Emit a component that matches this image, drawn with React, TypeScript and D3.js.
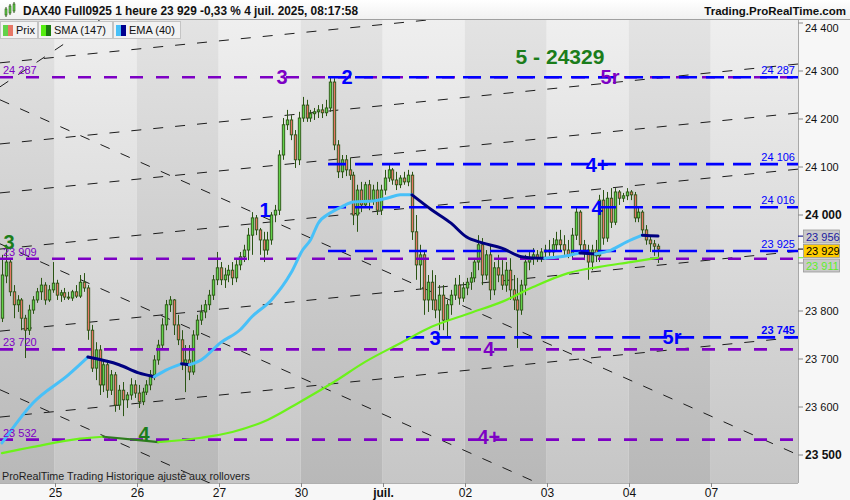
import React, { useEffect, useRef } from 'react';
import * as d3 from 'd3';

type Candle = [number, number, number, number]; // open, high, low, close

const FONT = "'Liberation Sans', Arial, Helvetica, sans-serif";
const W = 850;
const H = 500;
const PLOT_RIGHT = 798;
const PLOT_TOP = 20;
const PLOT_BOTTOM = 483;
const SLOT_END = 204.35;

// hourly sessions, first day is partial on screen
const dayLabels = ['24', '25', '26', '27', '30', 'juil.', '02', '03', '04', '07'];
const daySlots = [14, 21, 21, 21, 21, 21, 21, 21, 21, 21];

const day24: Candle[] = [
  [23785, 23917, 23777, 23875], [23873, 23938, 23858, 23902], [23902, 23910, 23831, 23840],
  [23840, 23854, 23785, 23813], [23813, 23833, 23798, 23823], [23823, 23827, 23760, 23785],
  [23785, 23792, 23702, 23760], [23760, 23813, 23750, 23802], [23802, 23831, 23794, 23823],
  [23823, 23848, 23817, 23840], [23840, 23869, 23823, 23854], [23854, 23860, 23813, 23823],
  [23823, 23854, 23819, 23844], [23844, 23902, 23838, 23858],
];
const day25: Candle[] = [
  [23858, 23865, 23823, 23833], [23833, 23844, 23819, 23838], [23838, 23848, 23823, 23829],
  [23829, 23840, 23823, 23827], [23827, 23844, 23821, 23840], [23840, 23854, 23827, 23831],
  [23831, 23875, 23827, 23860], [23860, 23879, 23840, 23848], [23848, 23854, 23740, 23760],
  [23760, 23771, 23673, 23681], [23681, 23735, 23656, 23719], [23719, 23729, 23625, 23646],
  [23646, 23698, 23631, 23688], [23688, 23698, 23619, 23635], [23635, 23677, 23625, 23667],
  [23667, 23673, 23590, 23604], [23604, 23646, 23594, 23635], [23635, 23652, 23581, 23615],
  [23615, 23631, 23598, 23625], [23625, 23660, 23615, 23646], [23646, 23656, 23619, 23629],
];
const day26: Candle[] = [
  [23629, 23646, 23598, 23611], [23611, 23640, 23604, 23631], [23631, 23656, 23625, 23646],
  [23646, 23677, 23635, 23667], [23667, 23708, 23656, 23698], [23698, 23740, 23688, 23729],
  [23729, 23785, 23719, 23771], [23771, 23823, 23760, 23813], [23813, 23831, 23798, 23823],
  [23823, 23825, 23750, 23771], [23771, 23792, 23729, 23740], [23740, 23760, 23677, 23688],
  [23688, 23729, 23631, 23698], [23698, 23729, 23656, 23673], [23673, 23760, 23667, 23750],
  [23750, 23792, 23740, 23781], [23781, 23813, 23771, 23798], [23798, 23823, 23785, 23813],
  [23813, 23844, 23802, 23833], [23833, 23875, 23823, 23865], [23865, 23923, 23854, 23890],
];
const day27: Candle[] = [
  [23890, 23902, 23854, 23865], [23865, 23890, 23848, 23875], [23875, 23896, 23860, 23885],
  [23885, 23902, 23854, 23869], [23869, 23906, 23860, 23896], [23896, 23923, 23885, 23913],
  [23913, 23938, 23902, 23927], [23927, 23973, 23906, 23958], [23958, 24006, 23917, 23994],
  [23994, 24000, 23958, 23969], [23969, 23973, 23917, 23948], [23948, 23965, 23902, 23927],
  [23927, 23965, 23917, 23948], [23948, 24006, 23938, 24000], [24000, 24021, 23985, 24010],
  [24010, 24135, 24000, 24125], [24125, 24202, 24115, 24188], [24188, 24219, 24177, 24198],
  [24198, 24208, 24156, 24167], [24167, 24177, 24098, 24115], [24115, 24215, 24104, 24202],
];
const day30: Candle[] = [
  [24202, 24246, 24194, 24229], [24229, 24240, 24194, 24202], [24202, 24219, 24194, 24211],
  [24211, 24223, 24198, 24215], [24215, 24229, 24202, 24219], [24219, 24231, 24202, 24213],
  [24213, 24240, 24206, 24223], [24223, 24288, 24215, 24277], [24277, 24285, 24135, 24146],
  [24146, 24156, 24077, 24090], [24090, 24125, 24077, 24115], [24115, 24125, 24081, 24094],
  [24094, 24119, 24073, 24083], [24083, 24090, 23979, 24000], [24000, 24063, 23965, 24052],
  [24052, 24069, 24006, 24021], [24021, 24069, 24015, 24063], [24063, 24073, 24010, 24031],
  [24031, 24063, 24021, 24052], [24052, 24069, 24000, 24010], [24010, 24063, 24000, 24052],
];
const day01: Candle[] = [
  [24052, 24094, 24042, 24077], [24077, 24104, 24069, 24094], [24094, 24098, 24063, 24073],
  [24073, 24090, 24052, 24063], [24063, 24083, 24056, 24077], [24077, 24090, 24063, 24069],
  [24069, 24094, 24060, 24083], [24083, 24090, 23948, 23965], [23965, 24000, 23865, 23896],
  [23896, 23938, 23844, 23917], [23917, 23927, 23792, 23823], [23823, 23875, 23798, 23860],
  [23860, 23885, 23802, 23823], [23823, 23875, 23785, 23802], [23802, 23854, 23760, 23833],
  [23833, 23854, 23760, 23781], [23781, 23823, 23746, 23813], [23813, 23844, 23792, 23833],
  [23833, 23869, 23823, 23854], [23854, 23875, 23813, 23827], [23827, 23860, 23819, 23848],
];
const day02: Candle[] = [
  [23848, 23869, 23833, 23860], [23860, 23881, 23844, 23869], [23869, 23910, 23860, 23902],
  [23902, 23958, 23885, 23938], [23938, 23952, 23854, 23875], [23875, 23927, 23865, 23917],
  [23917, 23938, 23823, 23844], [23844, 23902, 23833, 23890], [23890, 23917, 23860, 23875],
  [23875, 23906, 23844, 23854], [23854, 23902, 23840, 23885], [23885, 23910, 23823, 23844],
  [23844, 23875, 23802, 23823], [23823, 23869, 23723, 23802], [23802, 23865, 23792, 23854],
  [23854, 23917, 23833, 23902], [23902, 23927, 23885, 23910], [23910, 23931, 23896, 23917],
  [23917, 23927, 23902, 23910], [23910, 23931, 23902, 23923], [23923, 23938, 23910, 23927],
];
const day03: Candle[] = [
  [23927, 23948, 23915, 23923], [23923, 23952, 23910, 23938], [23938, 23965, 23927, 23948],
  [23948, 23969, 23927, 23938], [23938, 23958, 23917, 23927], [23927, 23948, 23910, 23917],
  [23917, 23973, 23910, 23958], [23958, 24015, 23948, 24006], [24006, 24010, 23927, 23938],
  [23938, 23948, 23906, 23927], [23927, 23938, 23865, 23902], [23902, 23938, 23885, 23927],
  [23927, 23948, 23902, 23915], [23915, 24042, 23902, 24031], [24031, 24052, 23938, 23952],
  [23952, 24048, 23944, 24035], [24035, 24056, 23973, 23985], [23985, 24056, 23979, 24048],
  [24048, 24052, 24021, 24035], [24035, 24046, 24027, 24040], [24040, 24056, 24031, 24048],
];
const day04: Candle[] = [
  [24048, 24052, 24031, 24042], [24042, 24048, 23985, 23994], [23994, 24015, 23985, 24006],
  [24006, 24010, 23958, 23969], [23969, 23979, 23938, 23948], [23948, 23958, 23923, 23940],
  [23940, 23948, 23915, 23935], [23935, 23940, 23900, 23929],
];
const candleDays = [day24, day25, day26, day27, day30, day01, day02, day03, day04];

// [bar, value]
const smaPoints: [number, number][] = [
  [0, 23504], [8, 23517], [20, 23534], [26, 23538], [35, 23531], [40, 23527], [51, 23536],
  [59, 23548], [68, 23573], [76, 23609], [85, 23652], [93, 23694], [102, 23733], [110, 23767],
  [120, 23796], [128, 23819], [136, 23850], [145, 23879], [153, 23892], [161, 23902], [168, 23911],
];
const emaPoints: [number, number][] = [
  [0, 23525], [8, 23609], [17, 23667], [22, 23704], [30, 23688], [35, 23671], [39, 23663],
  [42, 23677], [46, 23690], [48, 23688], [51, 23698], [56, 23734], [61, 23761], [64, 23788],
  [69, 23823], [74, 23879], [77, 23927], [79, 23948], [81, 23983], [84, 24004], [87, 24017],
  [90, 24027], [95, 24029], [99, 24036], [102, 24042], [105, 24042], [110, 24011], [115, 23983],
  [119, 23954], [123, 23942], [128, 23931], [133, 23913], [135, 23911], [139, 23910],
  [143, 23913], [148, 23921], [152, 23919], [156, 23927], [160, 23944], [164, 23958],
  [166, 23957], [168, 23956],
];

const purpleLevels = [24287, 23909, 23720, 23532];
// [price, first bar]
const blueLevels: [number, number][] = [
  [24287, 84], [24106, 84], [24016, 84], [23925, 84], [23745, 104],
];

// [bar, price, bar, price]
const trendLines: [number, number, number, number][] = [
  [0, 24317, 200, 24480], [0, 24148, 200, 24311], [0, 24046, 200, 24209],
  [0, 23929, 200, 24092], [0, 23758, 200, 23921], [0, 23579, 200, 23742],
  [0, 24240, 200, 23516], [0, 23940, 200, 23216], [0, 23636, 200, 22912],
  [0, 24267, 40, 24485],
];

// [text, bar, price, colour key]
const waveLabels: [string, number, number, string][] = [
  ['3', 72.2, 24288, 'purple'], ['2', 88.9, 24288, 'blue'], ['5 - 24329', 143.4, 24329, 'green'],
  ['5r', 156.2, 24288, 'purple'], ['1', 67.9, 24010, 'blue'], ['4+', 152.9, 24104, 'blue'],
  ['4', 152.9, 24015, 'blue'], ['3', 2.3, 23944, 'green'], ['3', 111.4, 23744, 'blue'],
  ['4', 125.2, 23720, 'purple'], ['5r', 172.1, 23745, 'blue'], ['4', 36.9, 23544, 'green'],
  ['4+', 125.2, 23538, 'purple'],
];

const lastEma = 23956;
const lastPrice = 23929;
const lastSma = 23911;

const COLORS: Record<string, string> = {
  purple: '#7d00c4',
  blue: '#0000ff',
  green: '#1b7d1b',
};
const BULL = '#62d24a';
const BEAR = '#e77766';
const WICK = '#2b5414';

const fmt = (v: number) => d3.format(',')(v).replace(',', ' ');

function splitRuns(points: [number, number][]) {
  const out: { up: boolean; pts: [number, number][] }[] = [];
  let cur: [number, number][] = [points[0]];
  let dir: boolean | null = null;
  for (let i = 1; i < points.length; i++) {
    const up = points[i][1] >= points[i - 1][1];
    if (dir === null) dir = up;
    if (up !== dir) {
      out.push({ up: dir, pts: cur });
      cur = [points[i - 1]];
      dir = up;
    }
    cur.push(points[i]);
  }
  out.push({ up: dir as boolean, pts: cur });
  return out;
}

export default function App() {
  const svgRef = useRef<SVGSVGElement>(null);

  useEffect(() => {
    if (!svgRef.current) return;
    document.body.style.margin = '0';
    const svg = d3.select(svgRef.current);
    svg.selectAll('*').remove();

    const x = d3.scaleLinear().domain([0, SLOT_END]).range([0, PLOT_RIGHT]);
    const y = d3.scaleLinear().domain([23500, 24300]).range([455, 71]);

    const defs = svg.append('defs');
    const grad = (id: string, top: string, bottom: string) => {
      const g = defs.append('linearGradient').attr('id', id)
        .attr('x1', 0).attr('y1', 0).attr('x2', 0).attr('y2', 1);
      g.append('stop').attr('offset', '0%').attr('stop-color', top);
      g.append('stop').attr('offset', '100%').attr('stop-color', bottom);
    };
    grad('bandLight', '#efefef', '#c6c6c6');
    grad('bandDark', '#e3e3e3', '#b8b8b8');
    grad('head', '#ffffff', '#f0f0f0');
    defs.append('clipPath').attr('id', 'plotClip')
      .append('rect').attr('x', 0).attr('y', PLOT_TOP)
      .attr('width', PLOT_RIGHT).attr('height', PLOT_BOTTOM - PLOT_TOP);

    // page background
    svg.append('rect').attr('width', W).attr('height', H).attr('fill', '#f7f7f7');

    // day bands
    const starts = d3.cumsum([0, ...daySlots]);
    const plot = svg.append('g').attr('clip-path', 'url(#plotClip)');
    dayLabels.forEach((_, i) => {
      const s = starts[i];
      const e = i === dayLabels.length - 1 ? SLOT_END : starts[i + 1];
      plot.append('rect')
        .attr('x', x(s)).attr('y', PLOT_TOP)
        .attr('width', x(e) - x(s)).attr('height', PLOT_BOTTOM - PLOT_TOP)
        .attr('fill', i % 2 === 0 ? 'url(#bandDark)' : 'url(#bandLight)');
    });

    // trend lines
    trendLines.forEach(([s0, p0, s1, p1]) => {
      const k = (p1 - p0) / (s1 - s0);
      plot.append('line')
        .attr('x1', x(0)).attr('y1', y(p0 - s0 * k))
        .attr('x2', x(SLOT_END)).attr('y2', y(p0 + (SLOT_END - s0) * k))
        .attr('stroke', '#1c1c1c').attr('stroke-width', 1)
        .attr('stroke-dasharray', '10,12');
    });

    // candles
    const candles = candleDays.flat();
    candles.forEach(([o, h, l, c], i) => {
      const cx = Math.round(x(i + 0.5)) + 0.5;
      plot.append('line')
        .attr('x1', cx).attr('x2', cx).attr('y1', y(h)).attr('y2', y(l))
        .attr('stroke', WICK).attr('stroke-width', 1);
      const top = y(Math.max(o, c));
      const bot = y(Math.min(o, c));
      plot.append('rect')
        .attr('x', cx - 1.2).attr('y', top)
        .attr('width', 2.4).attr('height', Math.max(1, bot - top))
        .attr('fill', c >= o ? BULL : BEAR)
        .attr('stroke', WICK).attr('stroke-width', 0.9);
    });

    // horizontal levels
    purpleLevels.forEach(p => {
      plot.append('line')
        .attr('x1', x(0)).attr('x2', x(SLOT_END)).attr('y1', y(p)).attr('y2', y(p))
        .attr('stroke', COLORS.purple).attr('stroke-width', 2.6)
        .attr('stroke-dasharray', '13,13');
    });
    blueLevels.forEach(([p, from]) => {
      plot.append('line')
        .attr('x1', x(from)).attr('x2', x(SLOT_END)).attr('y1', y(p)).attr('y2', y(p))
        .attr('stroke', COLORS.blue).attr('stroke-width', 2.6)
        .attr('stroke-dasharray', '18,9');
    });

    // moving averages
    const line = d3.line<[number, number]>()
      .x(d => x(d[0] + 0.5)).y(d => y(d[1]))
      .curve(d3.curveMonotoneX);
    splitRuns(smaPoints).forEach(r => {
      plot.append('path').attr('d', line(r.pts))
        .attr('fill', 'none').attr('stroke', r.up ? '#6cf21a' : '#2f7d1e')
        .attr('stroke-width', 2.2).attr('stroke-linecap', 'round');
    });
    splitRuns(emaPoints).forEach(r => {
      plot.append('path').attr('d', line(r.pts))
        .attr('fill', 'none').attr('stroke', r.up ? '#48c0f8' : '#000080')
        .attr('stroke-width', 3).attr('stroke-linecap', 'round');
    });

    // level labels
    purpleLevels.forEach(p => {
      plot.append('text').attr('x', 3).attr('y', y(p) - 3)
        .attr('fill', COLORS.purple).style('font-size', '11px').text(fmt(p));
    });
    blueLevels.forEach(([p]) => {
      plot.append('text').attr('x', 795).attr('y', y(p) - 3)
        .attr('text-anchor', 'end')
        .attr('fill', COLORS.blue)
        .style('font-size', '11px')
        .style('font-weight', p === 23745 ? 'bold' : 'normal')
        .text(fmt(p));
    });

    // wave labels
    waveLabels.forEach(([t, s, p, key]) => {
      plot.append('text').attr('x', x(s)).attr('y', y(p) + 7)
        .attr('text-anchor', 'middle')
        .attr('fill', COLORS[key])
        .style('font-size', t.length > 3 ? '21px' : '20px')
        .style('font-weight', 'bold')
        .text(t);
    });

    plot.append('text').attr('x', 2).attr('y', 480)
      .attr('fill', '#1e1e1e').style('font-size', '11px')
      .attr('textLength', 248).attr('lengthAdjust', 'spacingAndGlyphs')
      .text('ProRealTime Trading  Historique ajusté aux rollovers');

    // value boxes cover the axis labels they sit on
    const boxes: [number, string, string, string][] = [
      [lastEma, '#c9c9c9', '#1a1aa0', '#000080'],
      [lastPrice, '#ffcc00', '#000000', '#000000'],
      [lastSma, '#c9c9c9', '#5ef02a', '#5ef02a'],
    ];
    const boxTop = 230;
    const boxBottom = boxTop + boxes.length * 14.5;

    // right axis
    svg.append('line').attr('x1', PLOT_RIGHT + 0.5).attr('x2', PLOT_RIGHT + 0.5)
      .attr('y1', PLOT_TOP).attr('y2', PLOT_BOTTOM).attr('stroke', '#a8a8a8');
    d3.range(23500, 24401, 100).forEach(v => {
      const ty = y(v);
      const major = v % 500 === 0;
      svg.append('line').attr('x1', PLOT_RIGHT).attr('x2', PLOT_RIGHT + 5)
        .attr('y1', ty).attr('y2', ty).attr('stroke', '#888');
      if (ty > boxTop - 6 && ty < boxBottom + 6) return;
      svg.append('text').attr('x', 805).attr('y', Math.max(ty + 4, 32))
        .attr('fill', '#111')
        .style('font-size', major ? '12px' : '11px')
        .style('font-weight', major ? 'bold' : 'normal')
        .text(fmt(v));
    });

    boxes.forEach(([v, bg, fg, tick], i) => {
      const by = boxTop + i * 14.5;
      svg.append('line').attr('x1', PLOT_RIGHT).attr('x2', 803)
        .attr('y1', y(v)).attr('y2', y(v)).attr('stroke', tick);
      svg.append('rect').attr('x', 803.5).attr('y', by).attr('width', 36).attr('height', 13)
        .attr('fill', bg).attr('stroke', '#9a9a9a').attr('stroke-width', 0.8);
      svg.append('text').attr('x', 806).attr('y', by + 10.5)
        .attr('fill', fg).style('font-size', '11px').text(fmt(v));
    });

    // bottom axis
    svg.append('line').attr('x1', 0).attr('x2', PLOT_RIGHT)
      .attr('y1', PLOT_BOTTOM + 0.5).attr('y2', PLOT_BOTTOM + 0.5).attr('stroke', '#b0b0b0');
    dayLabels.forEach((d, i) => {
      if (i === 0) return;
      const tx = Math.round(x(starts[i])) + 0.5;
      svg.append('line').attr('x1', tx).attr('x2', tx)
        .attr('y1', PLOT_BOTTOM).attr('y2', PLOT_BOTTOM + 4).attr('stroke', '#888');
      svg.append('text').attr('x', tx).attr('y', 497)
        .attr('text-anchor', 'middle').attr('fill', '#111')
        .style('font-size', '12px')
        .style('font-weight', d === 'juil.' ? 'bold' : 'normal')
        .text(d);
    });

    // header
    svg.append('rect').attr('x', 0).attr('y', 0).attr('width', W).attr('height', PLOT_TOP)
      .attr('fill', 'url(#head)');
    svg.append('line').attr('x1', 0).attr('x2', W).attr('y1', PLOT_TOP - 0.5).attr('y2', PLOT_TOP - 0.5)
      .attr('stroke', '#a0a0a0');
    [[5, 9, 15], [9, 6, 13], [13, 4, 11]].forEach(([ix, t, b]) => {
      svg.append('line').attr('x1', ix + 1).attr('x2', ix + 1).attr('y1', t - 2).attr('y2', b + 2)
        .attr('stroke', '#2b5414');
      svg.append('rect').attr('x', ix).attr('y', t).attr('width', 2).attr('height', b - t)
        .attr('fill', BULL).attr('stroke', '#2b5414').attr('stroke-width', 0.6);
    });
    svg.append('text').attr('x', 23).attr('y', 14.5).attr('fill', '#111')
      .style('font-size', '12px').style('font-weight', 'bold')
      .attr('textLength', 335).attr('lengthAdjust', 'spacingAndGlyphs')
      .text('DAX40 Full0925 1 heure 23 929 -0,33 % 4 juil. 2025, 08:17:58');
    svg.append('text').attr('x', 846).attr('y', 14.5).attr('text-anchor', 'end')
      .attr('fill', '#111').style('font-size', '11.5px').style('font-weight', 'bold')
      .text('Trading.ProRealTime.com');

    // legend
    const legend: [string, string, string, number, number][] = [
      ['Prix', BULL, BEAR, 0, 37],
      ['SMA (147)', '#55ee11', '#1b7a10', 38, 74],
      ['EMA (40)', '#48c0f8', '#000090', 113, 67],
    ];
    legend.forEach(([label, c1, c2, lx, lw]) => {
      svg.append('rect').attr('x', lx + 0.5).attr('y', 21.5).attr('width', lw).attr('height', 17)
        .attr('fill', '#f2f2f2').attr('stroke', '#c4c4c4');
      svg.append('rect').attr('x', lx + 3).attr('y', 25).attr('width', 5).attr('height', 11).attr('fill', c1);
      svg.append('rect').attr('x', lx + 8).attr('y', 25).attr('width', 5).attr('height', 11).attr('fill', c2);
      svg.append('text').attr('x', lx + 16).attr('y', 34).attr('fill', '#111')
        .style('font-size', '11px').text(label);
    });
  }, []);

  return (
    <svg
      ref={svgRef}
      width={W}
      height={H}
      style={{ display: 'block', position: 'absolute', left: 0, top: 0, fontFamily: FONT }}
    />
  );
}
